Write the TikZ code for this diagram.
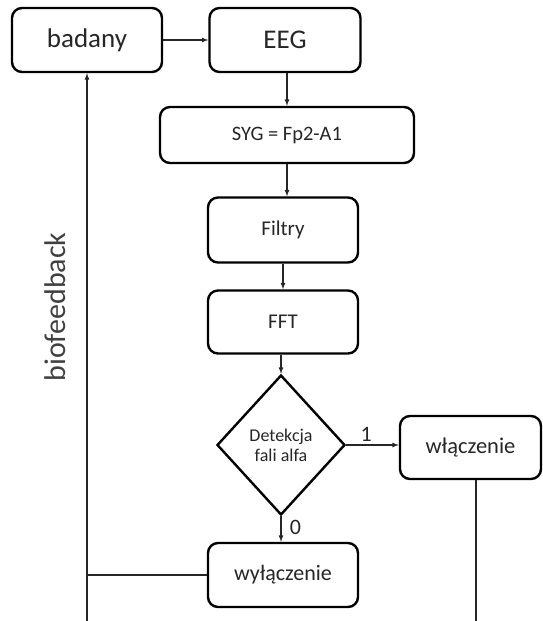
\documentclass[tikz,border=0pt]{standalone}
\usepackage{fontspec}
\setmainfont{Carlito}
\usetikzlibrary{shapes,arrows}

\begin{document}
\begin{tikzpicture}[x=1pt,y=-1pt]
		\tikzstyle {block} = [draw, line width=2.4pt, rounded corners=10pt, align=center, text=black!85, inner sep=0pt]
		\tikzstyle {decision} = [draw, diamond, line width=2.4pt, align=center, text=black!85, inner sep=0pt, minimum width=128pt, minimum height=140pt, font=\fontsize{18}{20}\selectfont]
		\tikzstyle {conn} = [line width=1.2pt, black!85]
		\tikzstyle {arrow} = [conn, -latex]

		\useasboundingbox (0,0) rectangle (542,621);

		\node[block, minimum width=150pt, minimum height=64pt, font=\fontsize{27}{30}\selectfont] (badany) at (87,40) {badany};
		\node[block, minimum width=151pt, minimum height=64pt, font=\fontsize{27}{30}\selectfont] (eeg) at (285,40) {EEG};
		\node[block, minimum width=254pt, minimum height=56pt, font=\fontsize{20.5}{24}\selectfont] (syg) at (287,135) {SYG = Fp2-A1};
		\node[block, minimum width=150pt, minimum height=65pt, font=\fontsize{21}{24}\selectfont] (filtry) at (283,230) {Filtry};
		\node[block, minimum width=150pt, minimum height=63pt, font=\fontsize{21}{24}\selectfont] (fft) at (283,322) {FFT};
		\node[decision] (detekcja) at (281,445) {Detekcja\\fali alfa};
		\node[block, minimum width=141pt, minimum height=63pt, font=\fontsize{22.5}{25}\selectfont] (wlacz) at (470.5,447.5) {włączenie};
		\node[block, minimum width=150pt, minimum height=64pt, font=\fontsize{22}{25}\selectfont] (wylacz) at (283,575) {wyłączenie};

		\node[rotate=90, text=black!75, font=\fontsize{30}{34}\selectfont] (bio) at (55,307) {biofeedback};

		\coordinate (botL) at (87,621);
		\coordinate (botR) at (476,621);

		\draw[arrow] (badany.east) -- (eeg.west);
		\draw[arrow] (eeg.south -| syg) -- (syg.north);
		\draw[arrow] (syg.south) -- (syg.south |- filtry.north);
		\draw[arrow] (filtry.south) -- (fft.north);
		\draw[arrow] (fft.south -| detekcja) -- (detekcja.north);
		\draw[arrow] (detekcja.east) -- (detekcja.east -| wlacz.west)
			node[pos=0.38, above, text=black!85, font=\fontsize{22}{24}\selectfont] (one) {1};
		\draw[arrow] (detekcja.south) -- (detekcja.south |- wylacz.north)
			node[pos=0.45, right, xshift=5pt, text=black!85, font=\fontsize{22}{24}\selectfont] (zero) {0};

		% feedback loop
		\draw[conn] (botR |- wlacz.south) -- (botR);
		\draw[conn] (wylacz.west) -- (wylacz.west -| botL);
		\draw[arrow] (botL) -- (badany.south);
	\end{tikzpicture}
\end{document}
